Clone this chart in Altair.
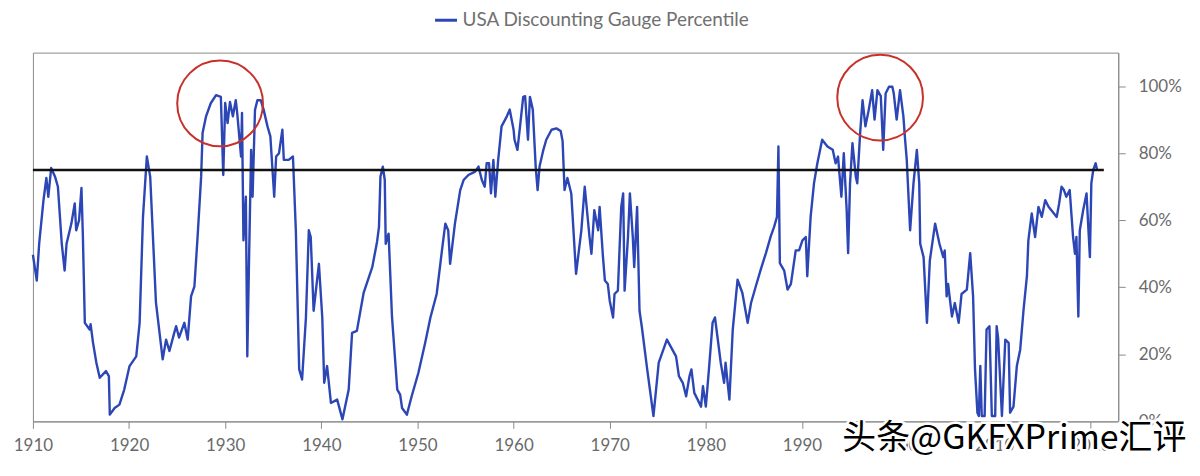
import altair as alt
import pandas as pd

# ---- data ----
years = [
    1910.0, 1910.4, 1910.65, 1911.1, 1911.4, 1911.6, 1911.9, 1912.3, 1912.6, 1913.0,
    1913.3, 1913.5, 1914.0, 1914.35, 1914.5, 1914.8, 1915.05, 1915.2, 1915.4, 1915.9,
    1916.0, 1916.25, 1916.6, 1916.95, 1917.6, 1917.9, 1918.0, 1918.5, 1919.0, 1919.5,
    1920.05, 1920.75, 1921.1, 1921.45, 1921.85, 1922.2, 1922.8, 1923.5, 1923.85, 1924.2,
    1924.7, 1924.9, 1925.2, 1925.75, 1926.1, 1926.45, 1926.8, 1927.15, 1927.5, 1927.65,
    1928.0, 1928.5, 1929.05, 1929.55, 1929.8, 1930.0, 1930.25, 1930.5, 1930.8, 1931.1,
    1931.25, 1931.65, 1931.75, 1931.9, 1932.15, 1932.3, 1932.5, 1932.7, 1932.85, 1933.1,
    1933.35, 1933.7, 1934.0, 1934.4, 1934.7, 1935.1, 1935.3, 1935.6, 1935.95, 1936.1,
    1936.6, 1937.05, 1937.35, 1937.7, 1938.0, 1938.4, 1938.7, 1938.9, 1939.2, 1939.75,
    1940.1, 1940.3, 1940.6, 1941.0, 1941.65, 1942.2, 1942.85, 1943.2, 1943.7, 1944.4,
    1945.3, 1945.8, 1946.0, 1946.15, 1946.4, 1946.6, 1946.7, 1947.0, 1947.35, 1947.9,
    1948.2, 1948.4, 1948.9, 1949.4, 1950.1, 1950.8, 1951.35, 1952.0, 1952.55, 1952.9,
    1953.2, 1953.4, 1953.9, 1954.45, 1954.8, 1955.3, 1956.0, 1956.35, 1956.7, 1957.0,
    1957.2, 1957.45, 1957.65, 1957.9, 1958.1, 1958.4, 1958.75, 1959.3, 1959.6, 1960.0,
    1960.1, 1960.4, 1960.65, 1961.0, 1961.2, 1961.5, 1961.7, 1962.0, 1962.3, 1962.5,
    1962.7, 1963.1, 1963.4, 1963.95, 1964.45, 1964.9, 1965.1, 1965.3, 1965.6, 1966.0,
    1966.5, 1967.05, 1967.4, 1967.9, 1968.1, 1968.4, 1968.8, 1968.95, 1969.3, 1969.5,
    1969.8, 1970.0, 1970.35, 1970.5, 1970.85, 1971.2, 1971.4, 1971.55, 1971.9, 1972.1,
    1972.4, 1972.55, 1972.85, 1973.1, 1973.35, 1973.9, 1974.55, 1975.1, 1975.95, 1976.9,
    1977.2, 1977.6, 1977.95, 1978.3, 1978.5, 1978.8, 1979.15, 1979.5, 1979.7, 1980.0,
    1980.35, 1980.7, 1980.95, 1981.2, 1981.55, 1981.9, 1982.05, 1982.45, 1982.8, 1983.3,
    1983.8, 1984.35, 1984.7, 1985.2, 1985.7, 1986.25, 1986.75, 1987.1, 1987.4, 1987.55,
    1987.7, 1988.15, 1988.5, 1988.85, 1989.35, 1989.7, 1990.05, 1990.4, 1990.55, 1990.9,
    1991.25, 1991.6, 1992.1, 1992.65, 1993.2, 1993.5, 1993.75, 1994.1, 1994.35, 1994.65,
    1994.8, 1995.0, 1995.25, 1995.6, 1995.75, 1996.05, 1996.3, 1996.6, 1996.95, 1997.3,
    1997.55, 1997.85, 1998.2, 1998.45, 1998.7, 1999.05, 1999.4, 1999.55, 1999.85, 2000.2,
    2000.55, 2000.7, 2000.9, 2001.1, 2001.25, 2001.6, 2001.95, 2002.2, 2002.3, 2002.65,
    2003.0, 2003.3, 2003.85, 2004.3, 2004.7, 2004.85, 2005.05, 2005.2, 2005.6, 2005.9,
    2006.3, 2006.6, 2007.15, 2007.5, 2007.8, 2008.0, 2008.25, 2008.4, 2008.55, 2008.7,
    2009.0, 2009.2, 2009.5, 2009.75, 2010.1, 2010.25, 2010.4, 2010.8, 2011.15, 2011.5,
    2011.65, 2012.0, 2012.35, 2012.7, 2013.05, 2013.4, 2013.55, 2013.9, 2014.25, 2014.6,
    2014.95, 2015.3, 2015.65, 2016.5, 2016.75, 2017.0, 2017.25, 2017.5, 2017.85, 2018.2,
    2018.4, 2018.55, 2018.75, 2018.9, 2019.25, 2019.6, 2019.95, 2020.1, 2020.3, 2020.55,
    2020.7,
]
values = [
    49.7, 42, 53, 66, 72.6, 67, 75.6, 73, 70, 53,
    45, 53, 59, 65, 57, 60, 69.6, 55, 29.4, 27.4,
    29, 23.5, 17.5, 13, 15, 13.5, 2, 4, 5, 9.5,
    16.5, 19.4, 29.4, 61, 79, 73, 35.4, 18.5, 24.4, 21,
    26.4, 28.4, 25, 29.4, 24.4, 37.3, 40.3, 56, 73, 86,
    90.9, 94.9, 97.3, 96.8, 73.5, 95, 89, 95.3, 91, 95.8,
    92, 79, 92, 54, 67, 19.4, 51, 81, 67, 92.9,
    95.8, 95.8, 93, 88, 85, 67, 79, 80, 87, 78,
    78, 79, 57, 15.5, 12.5, 31, 57, 55, 33, 47,
    31, 11.5, 16.5, 5.5, 6.5, 0.6, 9.5, 26.4, 27, 38.3,
    46, 53.6, 58, 73, 76, 72, 53, 56, 31.3, 9.5,
    8, 4, 2, 7.5, 14.5, 23.4, 31, 38, 51, 59,
    57, 47, 59, 69, 72, 73.5, 74.5, 76, 72, 70,
    77, 77, 68, 78, 67, 78, 88, 91, 93, 87,
    84, 81, 87.4, 96.8, 97, 84, 96.8, 93, 76, 69,
    76, 81, 84, 87, 87.4, 86.6, 83.6, 69, 72.6, 68,
    44, 57, 70, 55, 50, 63, 57, 64, 49, 42,
    41, 36, 31, 38, 39, 64, 68, 39, 55, 68,
    55, 46, 64, 33, 28, 15.5, 1.6, 17.5, 24.4, 19.4,
    13.5, 11.5, 7.5, 13.5, 15.5, 8.5, 6.5, 4.4, 10.5, 4.4,
    16.5, 29.4, 31, 25.4, 17.5, 11.5, 17.5, 6.5, 27.4, 42.3,
    38.3, 29.4, 35.3, 40.3, 45.2, 50.2, 55.2, 58, 61, 82,
    47.2, 45, 39.3, 41, 51, 51, 54, 55, 43.3, 61,
    71, 77, 84, 82, 81, 77, 79, 67, 80, 63,
    50.2, 71, 83, 73, 71, 86, 95.8, 88, 93, 98.8,
    90, 98.8, 97, 81, 97.8, 99.8, 99.8, 97.8, 90, 98.8,
    91, 85, 78, 66, 57, 71, 81, 71, 53, 49,
    29.4, 48, 59, 53, 49, 51, 37.3, 41, 31.3, 35.3,
    29.4, 38, 39.3, 50.2, 37.3, 15.5, 2.6, 1.6, 16.5, 1.6,
    1.6, 27.4, 28.4, 1.6, 1.6, 28.4, 25, 1.6, 24.4, 23.4,
    2.6, 4.4, 16.5, 21.4, 33.3, 43.3, 54, 62, 55, 64,
    61, 66, 64, 61, 65, 70, 69, 67, 69, 55,
    50, 55, 31.3, 57, 63, 68, 49, 71, 75, 77,
    75,
]
series_name = ["USA Discounting Gauge Percentile"]
threshold_value = [75]
threshold_start = [1910]
threshold_end = [2021.4]
circle_years = [1929.47, 1998.13]
circle_values = [94.85, 96.6]
x_ticks = [1910, 1920, 1930, 1940, 1950, 1960, 1970, 1980, 1990, 2000, 2010, 2020]
y_ticks = [0, 20, 40, 60, 80, 100]
watermark_text = ["头条@GKFXPrime汇评"]
watermark_year = [1994.2]
watermark_value = [-5.4]

# ---- tables ----
df = pd.DataFrame({"year": years, "value": values, "series": series_name * len(years)})
df_rule = pd.DataFrame({"year": threshold_start, "year2": threshold_end, "value": threshold_value})
df_circ = pd.DataFrame({"year": circle_years, "value": circle_values})
df_wm = pd.DataFrame({"year": watermark_year, "value": watermark_value, "text": watermark_text})

x_scale = alt.Scale(domain=[1910, 2022.9], nice=False, zero=False)
y_scale = alt.Scale(domain=[0, 110], nice=False, zero=False)
x_axis = alt.Axis(values=x_ticks, format="d", title=None, grid=False, labelFlush=False,
                  labelPadding=9, labelFontSize=17)
y_axis = alt.Axis(orient="right", values=y_ticks, title=None, grid=False,
                  labelExpr="datum.value + '%'", labelPadding=13, labelFontSize=17,
                  labelFlush=False)


def X():
    return alt.X("year:Q", scale=x_scale, axis=x_axis, title=None)


def Y():
    return alt.Y("value:Q", scale=y_scale, axis=y_axis, title=None)


line = alt.Chart(df).mark_line(strokeWidth=2.4, strokeJoin="round").encode(
    x=X(),
    y=Y(),
    color=alt.Color("series:N", scale=alt.Scale(range=["#2c46b6"]),
                    legend=alt.Legend(orient="none", legendX=402, legendY=-45, title=None,
                                      symbolType="stroke", symbolStrokeWidth=3,
                                      symbolSize=484, labelFontSize=19, labelLimit=0,
                                      labelColor="#707070", labelFont="Lato")),
)

rule = alt.Chart(df_rule).mark_rule(color="#111111", strokeWidth=2.5).encode(
    x=X(),
    x2="year2:Q",
    y=Y(),
)

circles = alt.Chart(df_circ).mark_point(shape="circle", filled=False, size=7400,
                                        stroke="#c8312b", strokeWidth=2, opacity=1).encode(
    x=X(),
    y=Y(),
)

wm_back = alt.Chart(df_wm).mark_text(align="left", baseline="middle", font="Noto Sans CJK SC",
                                     fontSize=34, fontWeight="normal", color="white",
                                     stroke="white", strokeWidth=5).encode(
    x=X(),
    y=Y(),
    text="text:N",
)
wm_front = alt.Chart(df_wm).mark_text(align="left", baseline="middle", font="Noto Sans CJK SC",
                                      fontSize=34, fontWeight="normal", color="black").encode(
    x=X(),
    y=Y(),
    text="text:N",
)

chart = alt.layer(line, rule, circles, wm_back, wm_front).properties(
    width=1089, height=370,
    autosize=alt.AutoSizeParams(type="none"),
    padding={"left": 25, "top": 44, "right": 74, "bottom": 46},
    background="white",
).configure_view(
    stroke="#8a8a8a", strokeWidth=1,
).configure_axis(
    domainColor="#8a8a8a", tickColor="#8a8a8a", tickSize=7, labelColor="#6a6a6a",
    labelFont="Lato",
)

chart.save("out.html", embed_options={"renderer": "svg", "actions": False})
